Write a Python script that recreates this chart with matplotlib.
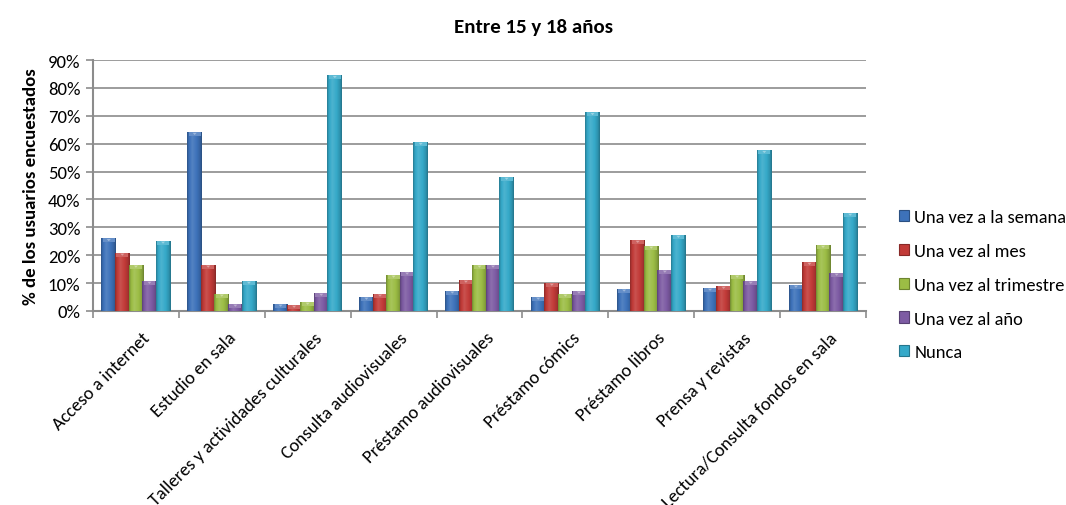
import numpy as np
import matplotlib
matplotlib.use("Agg")
import matplotlib.pyplot as plt
from matplotlib.patches import Patch, Polygon, Rectangle
from matplotlib.colors import to_rgb
from matplotlib.ticker import MultipleLocator, PercentFormatter

plt.rcParams['font.family'] = ['Carlito', 'Lato', 'DejaVu Sans']

categories = ["Acceso a internet", "Estudio en sala", "Talleres y actividades culturales",
              "Consulta audiovisuales", "Préstamo audiovisuales", "Préstamo cómics",
              "Préstamo libros", "Prensa y revistas", "Lectura/Consulta fondos en sala"]
series_names = ["Una vez a la semana", "Una vez al mes", "Una vez al trimestre",
                "Una vez al año", "Nunca"]
semana = [26.0, 64.1, 2.5, 5.0, 7.2, 5.0, 7.9, 8.2, 9.3]
mes = [20.8, 16.5, 2.1, 6.1, 11.1, 10.0, 25.4, 8.9, 17.5]
trimestre = [16.5, 6.1, 3.2, 12.9, 16.5, 6.1, 23.3, 12.9, 23.6]
anio = [10.7, 2.5, 6.4, 14.0, 16.5, 7.2, 14.7, 10.7, 13.6]
nunca = [25.1, 10.7, 84.5, 60.5, 48.0, 71.2, 27.2, 57.6, 35.1]
series_values = [semana, mes, trimestre, anio, nunca]
colors = ["#3D72BA", "#C23B38", "#9CBD45", "#7D5BA3", "#35A9C9"]


def shade(c, f):
    r = np.array(to_rgb(c))
    if f >= 1:
        return r + (1 - r) * (f - 1)
    return r * f


fig = plt.figure(figsize=(10.66, 5.06), dpi=100)
ax = fig.add_axes([0.0872, 0.3834, 0.7252, 0.496])

x = np.arange(len(categories))
step = 0.158
width = 0.172
cap = 1.3  # height of the bevel cap, in percent units

prof_x = np.array([0.0, 0.12, 0.35, 0.65, 0.88, 1.0])
prof_f = np.array([0.72, 0.95, 1.12, 1.0, 0.85, 0.68])
xs = np.linspace(0, 1, 64)
fac = np.interp(xs, prof_x, prof_f)

for k, (vals, col) in enumerate(zip(series_values, colors)):
    offs = (k - 2) * step
    bars = ax.bar(x + offs, vals, width=width, color=col, zorder=3 + k * 0.01,
                  linewidth=0)
    grad = np.array([[shade(col, f) for f in fac]])
    for rect, v in zip(bars, vals):
        x0 = rect.get_x()
        w = rect.get_width()
        im = ax.imshow(grad, extent=[x0, x0 + w, 0, v], aspect='auto',
                       zorder=3 + k * 0.01, interpolation='bilinear')
        im.set_clip_path(rect)
        ch = min(cap, v)
        ax.add_patch(Rectangle((x0 + w * 0.1, v - ch), w * 0.8, ch,
                               facecolor=shade(col, 1.2), linewidth=0,
                               zorder=3.05 + k * 0.01))
        tri_h = min(cap * 0.6, v)
        cx = x0 + w / 2
        ax.add_patch(Polygon([[cx - w * 0.14, v - ch * 0.15],
                              [cx + w * 0.14, v - ch * 0.15],
                              [cx, v - ch * 0.15 - tri_h]],
                             closed=True, facecolor=shade(col, 1.5),
                             linewidth=0, zorder=3.06 + k * 0.01))

ax.set_xlim(-0.5, len(categories) - 0.5)
ax.set_ylim(0, 90)
ax.yaxis.set_major_locator(MultipleLocator(10))
ax.yaxis.set_major_formatter(PercentFormatter(decimals=0))
ax.grid(axis='y', color='#9c9c9c', linewidth=1.4, zorder=0)
ax.set_axisbelow(True)

for side in ('top', 'right'):
    ax.spines[side].set_visible(False)
for side in ('left', 'bottom'):
    ax.spines[side].set_color('#8c8c8c')
    ax.spines[side].set_linewidth(1.5)

ax.set_xticks(np.arange(-0.5, len(categories)), minor=False)
ax.set_xticklabels([])
ax.tick_params(axis='x', which='major', length=5, color='#8c8c8c', width=1.2)
ax.tick_params(axis='y', length=5, color='#8c8c8c', width=1.2, labelsize=13.5,
               pad=4)

for xi, lab in zip(x, categories):
    ax.annotate(lab, xy=(xi + 0.07, 0), xycoords='data', xytext=(0, -13),
                textcoords='offset points', rotation=45, ha='right', va='top',
                rotation_mode='anchor', fontsize=13.2)

ax.set_ylabel("% de los usuarios encuestados", fontsize=13.5, fontweight='bold',
              labelpad=6)
fig.text(0.5, 0.945, "Entre 15 y 18 años", ha='center', va='center',
         fontsize=15, fontweight='bold')

handles = [Patch(facecolor=c, edgecolor=shade(c, 0.7), linewidth=0.8)
           for c in colors]
fig.legend(handles, series_names, loc='upper left',
           bbox_to_anchor=(0.836, 0.6), frameon=False, fontsize=13.3,
           handlelength=0.55, handleheight=0.55, handletextpad=0.3,
           labelspacing=0.97, borderaxespad=0)

fig.savefig("out.png", dpi=100)
